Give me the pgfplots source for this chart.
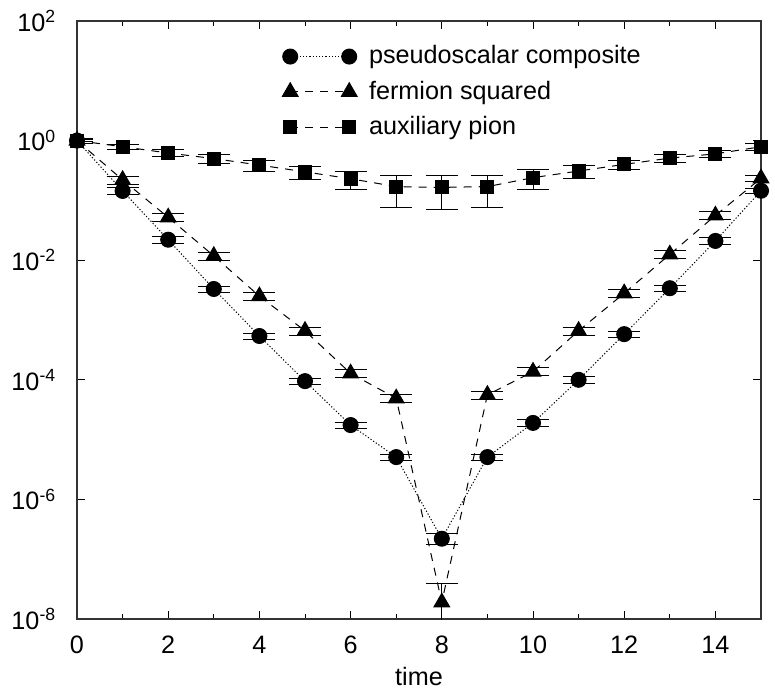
\documentclass[border=0pt,12pt]{standalone}
\usepackage{fontspec}
\setmainfont{Liberation Sans}
\usepackage{pgfplots}
\usepackage{pgfplotstable}
\pgfplotsset{compat=1.18}
\usetikzlibrary{calc}

\pgfplotstableread{
t y ep em
0 1.0 0.05 0.05
1 0.144 0.12 0.12
2 0.022 0.12 0.12
3 0.0033 0.12 0.12
4 5.4e-4 0.12 0.12
5 9.5e-5 0.12 0.12
6 1.75e-5 0.12 0.12
7 5.1e-6 0.12 0.12
8 2.2e-7 0.2 0.2
9 5.1e-6 0.12 0.12
10 1.9e-5 0.12 0.12
11 1.0e-4 0.12 0.12
12 5.8e-4 0.12 0.12
13 3.4e-3 0.12 0.12
14 0.021 0.12 0.12
15 0.145 0.1 0.1
}\pseudo

\pgfplotstableread{
t y ep em
0 1.0 0.05 0.05
1 0.22 0.15 0.15
2 0.052 0.15 0.15
3 0.0118 0.15 0.15
4 2.5e-3 0.15 0.15
5 6.6e-4 0.15 0.15
6 1.28e-4 0.15 0.15
7 4.9e-5 0.15 0.15
8 1.9e-8 1.1 0.95
9 5.6e-5 0.15 0.15
10 1.37e-4 0.15 0.15
11 6.6e-4 0.15 0.15
12 2.8e-3 0.15 0.15
13 0.0125 0.15 0.15
14 0.056 0.15 0.15
15 0.234 0.12 0.12
}\fermion

\pgfplotstableread{
t y e
0 1.0 0.1
1 0.79 0.085
2 0.62 0.08
3 0.50 0.085
4 0.39 0.08
5 0.30 0.075
6 0.23 0.08
7 0.17 0.095
8 0.165 0.095
9 0.17 0.095
10 0.24 0.085
11 0.31 0.08
12 0.40 0.07
13 0.51 0.085
14 0.60 0.085
15 0.79 0.12
}\aux

\begin{document}
\fontsize{12.6}{15}\selectfont
\begin{tikzpicture}
\begin{axis}[
  scale only axis, width=342pt, height=299pt,
  ymode=log, xmin=0, xmax=15, ymin=1e-8, ymax=1e2,
  xtick={0,2,...,14}, minor xtick={1,3,...,15},
  ytick={1e-8,1e-6,1e-4,1e-2,1,1e2},
  yticklabels={10\textsuperscript{-8},10\textsuperscript{-6},10\textsuperscript{-4},10\textsuperscript{-2},10\textsuperscript{0},10\textsuperscript{2}},
  yminorticks=false,
  tick align=inside, major tick length=4pt, minor tick length=2.5pt,
  tick style={black, line width=0.5pt},
  axis line style={black!80, line width=0.7pt},
  xticklabel style={/pgf/number format/assume math mode=true, yshift=-4pt},
  yticklabel style={xshift=-6pt},
  xlabel={time},
  xlabel style={yshift=2pt},
  legend style={at={(rel axis cs:0.291,0.973)}, anchor=north west, draw=none, fill=none, row sep=2.6pt, cells={anchor=west},
    /tikz/every odd column/.append style={column sep=4pt}},
  legend image code/.code={\draw[mark repeat=1,mark phase=1] plot coordinates {(0pt,0pt) (29.5pt,0pt)};},
]
\addplot[black, line width=0.5pt, dash pattern=on 0.6pt off 1pt, mark=*, mark size=3.75pt, mark options={solid},
  error bars/.cd, y dir=both, y explicit relative,
  error bar style={solid, line width=0.5pt},
  error mark options={rotate=90, mark size=8pt, solid, line width=0.5pt}]
  table[x=t, y=y, y error plus=ep, y error minus=em] {\pseudo};
\addlegendentry{pseudoscalar composite}
\addplot[black, line width=0.5pt, dash pattern=on 4pt off 3.5pt, mark=triangle*, mark size=4.5pt, mark options={solid},
  error bars/.cd, y dir=both, y explicit relative,
  error bar style={solid, line width=0.5pt},
  error mark options={rotate=90, mark size=8pt, solid, line width=0.5pt}]
  table[x=t, y=y, y error plus=ep, y error minus=em] {\fermion};
\addlegendentry{fermion squared}
\addplot[black, line width=0.5pt, dash pattern=on 4pt off 3.5pt, mark=square*, mark size=3.25pt, mark options={solid},
  error bars/.cd, y dir=both, y explicit,
  error bar style={solid, line width=0.5pt},
  error mark options={rotate=90, mark size=8pt, solid, line width=0.5pt}]
  table[x=t, y=y, y error=e] {\aux};
\addlegendentry{auxiliary pion}
\end{axis}
\pgfresetboundingbox
\path[use as bounding box] ($(current axis.south west)+(-38.5pt,-37pt)$) rectangle ($(current axis.north east)+(7pt,10.5pt)$);
\end{tikzpicture}
\end{document}
